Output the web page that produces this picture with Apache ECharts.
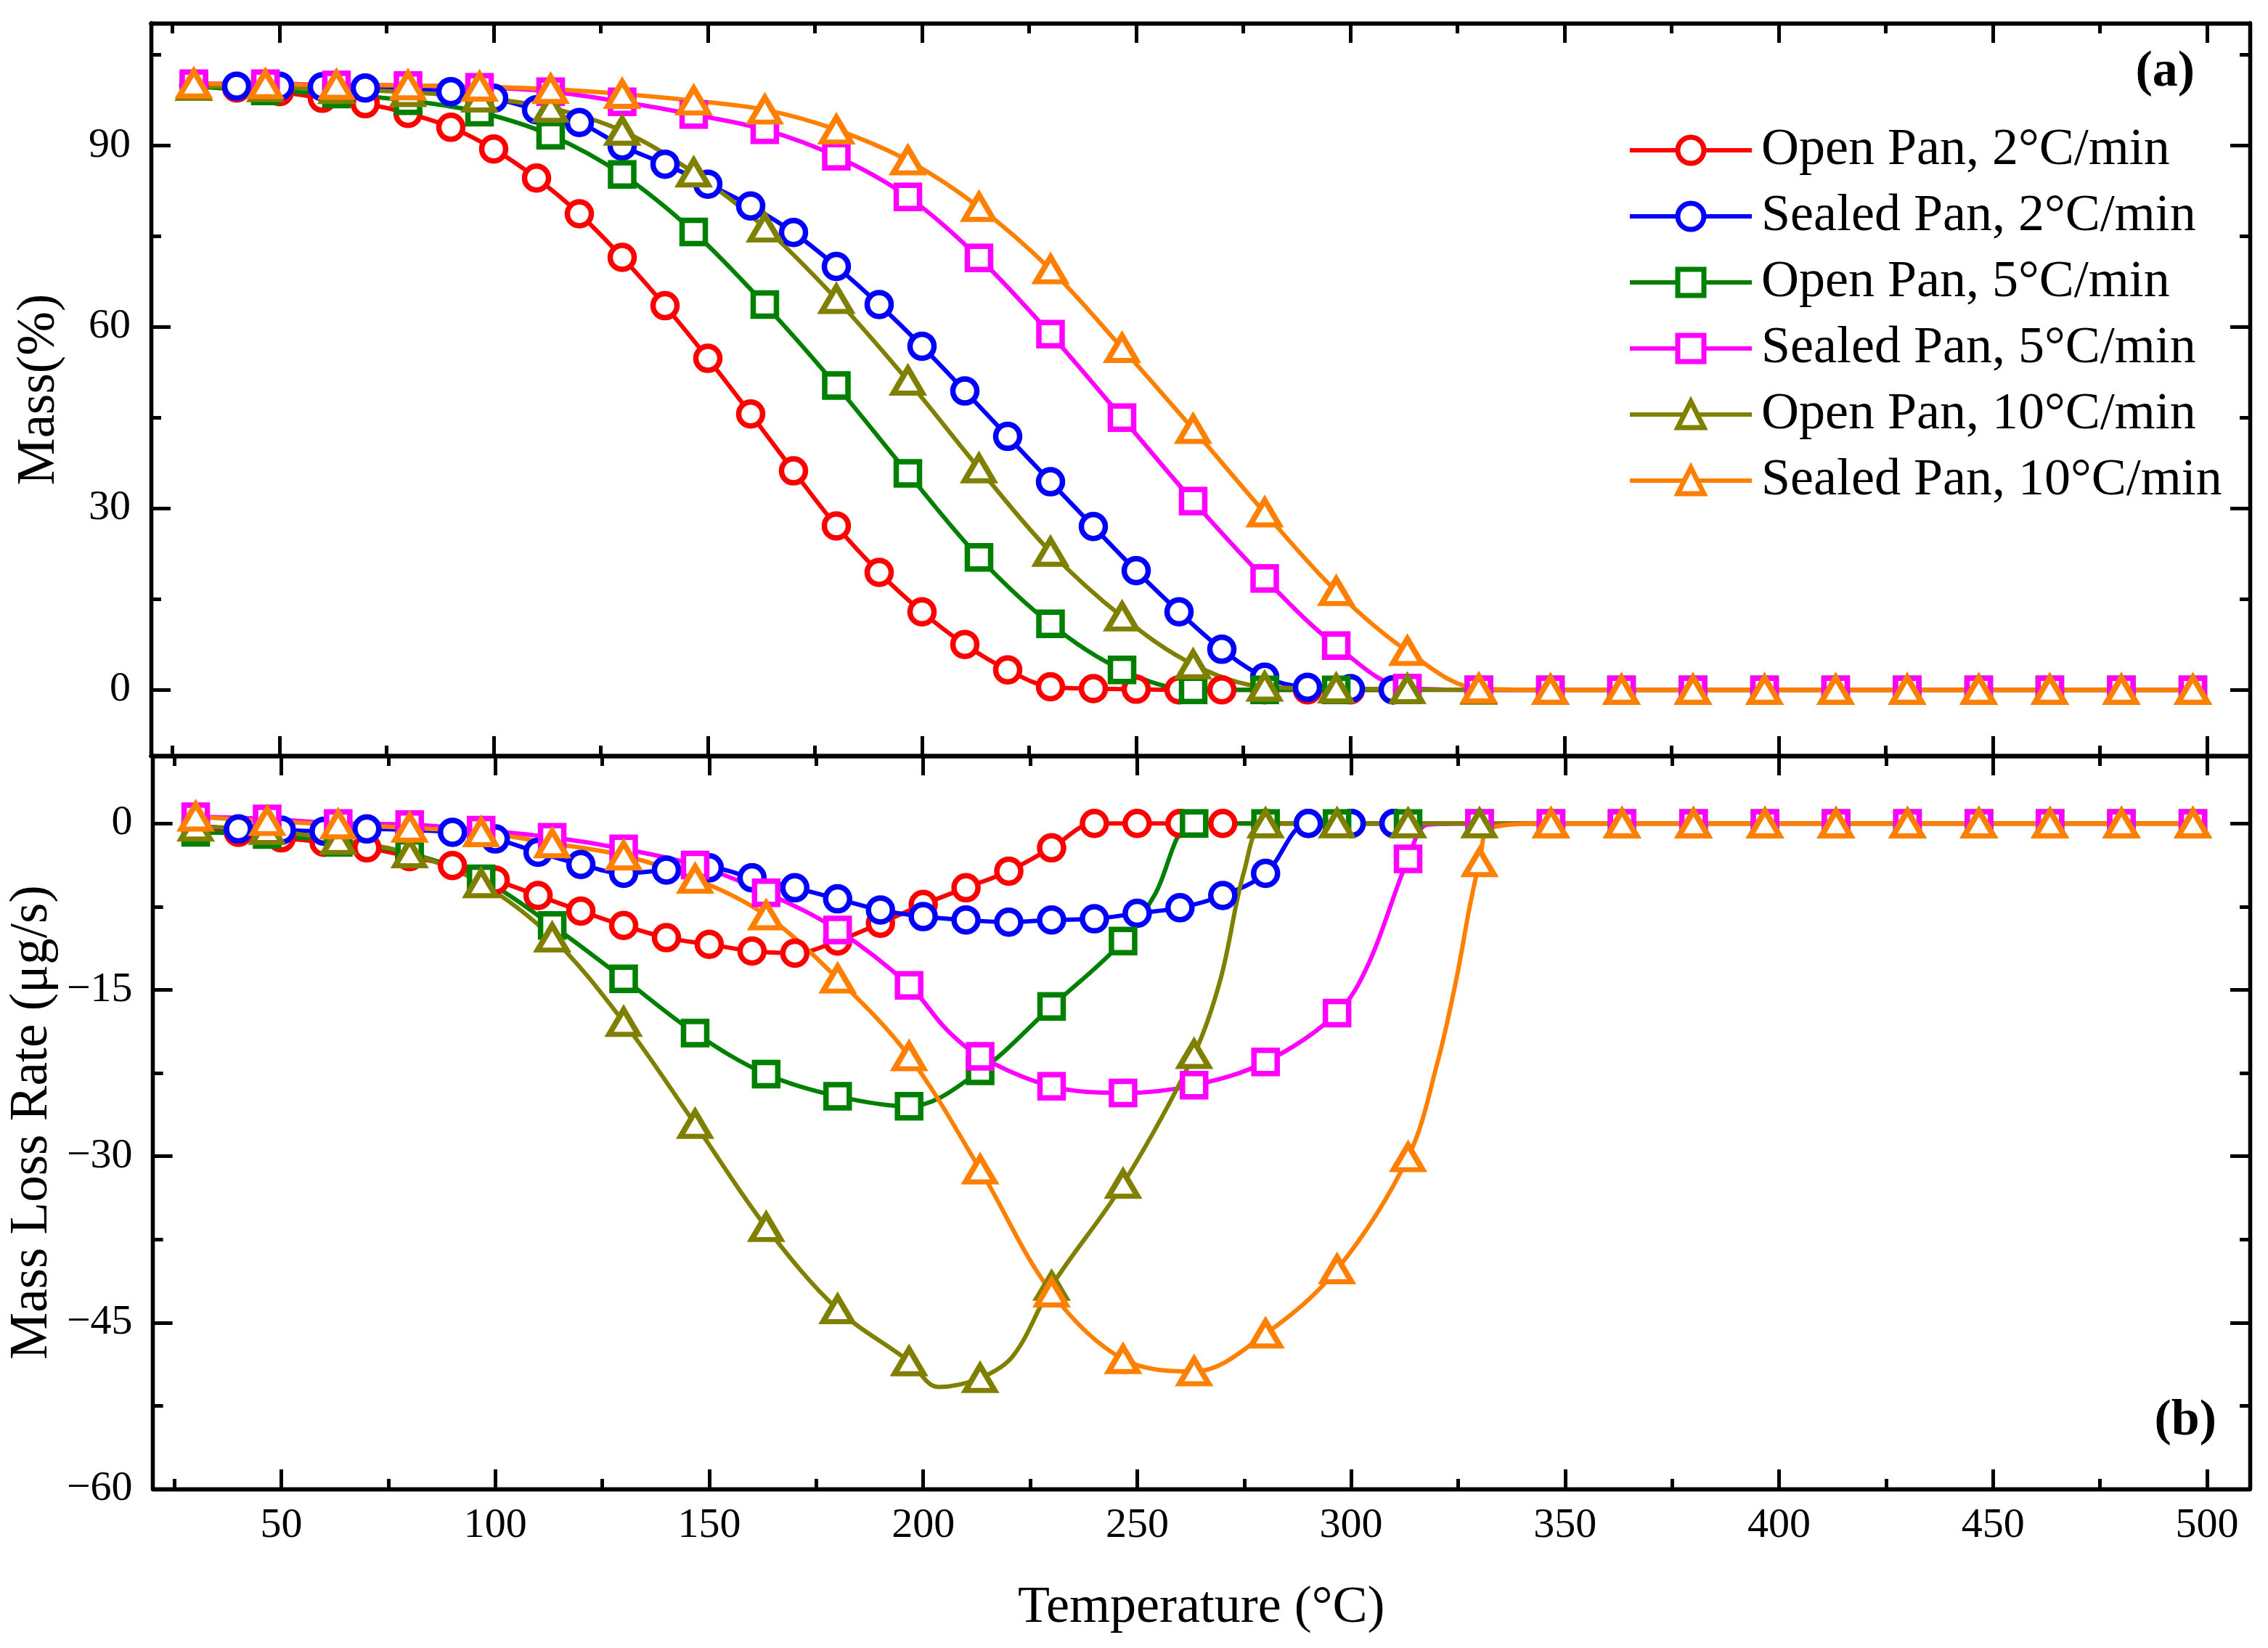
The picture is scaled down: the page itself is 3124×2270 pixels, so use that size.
<!DOCTYPE html>
<html>
<head>
<meta charset="utf-8">
<script src="https://cdn.jsdelivr.net/npm/echarts@6/dist/echarts.min.js"></script>
<style>
html, body { margin: 0; padding: 0; background: #fff; }
#chart { width: 3124px; height: 2270px; }
</style>
</head>
<body>
<div id="chart"></div>
<script>
// temperatures of the markers (circles every 10 C, squares / triangles every 16.7 C)
var tCircle = [30, 40, 50, 60, 70, 80, 90, 100, 110, 120, 130, 140, 150, 160, 170, 180, 190, 200, 210, 220, 230, 240, 250, 260, 270, 280, 290, 300, 310];
var tTri = [30, 46.7, 63.3, 80, 96.7, 113.3, 130, 146.7, 163.3, 180, 196.7, 213.3, 230, 246.7, 263.3, 280, 296.7, 313.3, 330, 346.7, 363.3, 380, 396.7, 413.3, 430, 446.7, 463.3, 480, 496.7];

// (a) mass %
var massOpen2 = [99.8, 99.5, 98.9, 97.8, 96.9, 95.3, 93.0, 89.4, 84.6, 78.7, 71.5, 63.5, 54.8, 45.6, 36.2, 27.1, 19.4, 12.9, 7.5, 3.3, 0.5, 0.2, 0.1, 0, 0, 0, 0, 0, 0];
var massSealed2 = [99.9, 99.8, 99.8, 99.7, 99.5, 99.3, 98.9, 97.8, 95.9, 93.8, 89.9, 86.9, 83.6, 80.0, 75.6, 70.0, 63.7, 56.8, 49.4, 41.9, 34.4, 27.0, 19.7, 12.9, 6.7, 2.1, 0.4, 0.2, 0];
var massOpen5 = [99.8, 99.0, 98.5, 97.4, 95.5, 91.7, 85.2, 75.7, 63.7, 50.3, 35.8, 21.9, 10.9, 3.3, 0, 0, 0, 0, 0, 0, 0, 0, 0, 0, 0, 0, 0, 0, 0];
var massSealed5 = [100.2, 100.2, 100.0, 99.9, 99.6, 98.9, 97.2, 95.1, 92.6, 88.2, 81.5, 71.4, 58.8, 45.0, 31.2, 18.4, 7.3, 0.3, 0, 0, 0, 0, 0, 0, 0, 0, 0, 0, 0];
var massOpen10 = [99.8, 99.6, 99.3, 98.8, 97.9, 96.2, 92.4, 85.5, 76.4, 64.6, 51.1, 36.6, 22.8, 12.1, 4.2, 0.5, 0.2, 0.1, 0, 0, 0, 0, 0, 0, 0, 0, 0, 0, 0];
var massSealed10 = [100.2, 100.1, 100.0, 99.9, 99.7, 99.3, 98.5, 97.4, 95.9, 92.6, 87.5, 79.8, 69.5, 56.5, 43.1, 29.3, 16.3, 6.4, 0.2, 0, 0, 0, 0, 0, 0, 0, 0, 0, 0];

// (b) mass loss rate, ug/s
var rateOpen2 = [-0.5, -0.8, -1.3, -1.7, -2.2, -3.0, -3.8, -5.1, -6.5, -7.9, -9.2, -10.3, -10.9, -11.5, -11.7, -10.6, -9.0, -7.3, -5.8, -4.3, -2.2, 0, 0, 0, 0, 0, 0, 0, 0];
var rateSealed2 = [-0.2, -0.5, -0.6, -0.7, -0.5, -0.6, -0.8, -1.4, -2.6, -3.7, -4.5, -4.2, -4.0, -4.9, -5.8, -6.8, -7.8, -8.4, -8.7, -8.9, -8.7, -8.6, -8.1, -7.6, -6.5, -4.5, 0, 0, 0];
var rateOpen5 = [-0.8, -1.0, -1.7, -2.7, -5.0, -9.2, -14.0, -18.9, -22.6, -24.6, -25.5, -22.3, -16.5, -10.6, 0, 0, 0, 0, 0, 0, 0, 0, 0, 0, 0, 0, 0, 0, 0];
var rateSealed5 = [0.6, 0.4, 0, -0.1, -0.6, -1.25, -2.3, -3.75, -6.25, -9.6, -14.6, -21.0, -23.7, -24.3, -23.6, -21.5, -17.1, -3.2, 0, 0, 0, 0, 0, 0, 0, 0, 0, 0, 0];
var rateOpen10 = [-0.3, -0.6, -1.5, -2.7, -5.4, -10.3, -17.9, -27.1, -36.4, -43.8, -48.5, -50.0, -41.7, -32.5, -20.8, 0, 0, 0, 0, 0, 0, 0, 0, 0, 0, 0, 0, 0, 0];
var rateSealed10 = [0.6, 0.2, -0.1, -0.4, -0.8, -1.8, -2.9, -5.0, -8.3, -14.0, -21.0, -31.2, -42.3, -48.3, -49.4, -46.0, -40.2, -30.1, -3.5, 0, 0, 0, 0, 0, 0, 0, 0, 0, 0];

// curve points between markers (no marker drawn)
var rateOpen5Extra = [[254, -6.5]];
var rateSealed5Extra = [[205.5, -18.6], [304, -12.7], [318, -0.1]];
var rateOpen10Extra = [[203.5, -50.8], [221, -48.0], [269.5, -14.0], [275, -4.3]];
var rateSealed10Extra = [[320.2, -21.5], [324.6, -14.0], [327.8, -7.3], [332.5, -0.4]];

// axis ticks
var xMajor = [50, 100, 150, 200, 250, 300, 350, 400, 450, 500];
var xMinor = [25, 75, 125, 175, 225, 275, 325, 375, 425, 475];
var massMajor = [0, 30, 60, 90];
var massMinor = [15, 45, 75, 105];
var rateMajor = [-60, -45, -30, -15, 0];
var rateMinor = [-52.5, -37.5, -22.5, -7.5];

var names = ['Open Pan, 2°C/min', 'Sealed Pan, 2°C/min', 'Open Pan, 5°C/min',
             'Sealed Pan, 5°C/min', 'Open Pan, 10°C/min', 'Sealed Pan, 10°C/min'];
var colors = ['#ff0000', '#0000ff', '#008000', '#ff00ff', '#808000', '#ff8000'];

var FONT = '"Times New Roman", "Liberation Serif", serif';

var chart = echarts.init(document.getElementById('chart'));

function pts(temps, vals, extra) {
	var d = temps.map(function (t, i) { return [t, vals[i]]; });
	(extra || []).forEach(function (p) { d.push({ value: p, symbol: 'none' }); });
	d.sort(function (a, b) {
		return (a.value || a)[0] - (b.value || b)[0];
	});
	return d;
}

function minus(v) {
	return String(v).replace('-', '\u2212');
}

function xAx(grid, pos, ticks, len, labels) {
	return {
		type: 'value', gridIndex: grid, position: pos, min: 20, max: 510,
		axisLine: { show: true, onZero: false, lineStyle: { color: '#000', width: 5.3 } },
		axisTick: { show: true, inside: true, length: len, customValues: ticks, lineStyle: { color: '#000', width: 5 } },
		axisLabel: { show: labels, customValues: ticks, margin: 22, color: '#000', fontSize: 58, fontFamily: FONT },
		splitLine: { show: false }
	};
}

function yAx(grid, pos, min, max, ticks, len, labels) {
	return {
		type: 'value', gridIndex: grid, position: pos, min: min, max: max,
		axisLine: { show: true, onZero: false, lineStyle: { color: '#000', width: 5.3 } },
		axisTick: { show: true, inside: true, length: len, customValues: ticks, lineStyle: { color: '#000', width: 5 } },
		axisLabel: { show: labels, customValues: ticks, margin: 28, color: '#000', fontSize: 58, fontFamily: FONT, formatter: minus },
		splitLine: { show: false }
	};
}

var xAxes = [
	xAx(0, 'bottom', xMajor, 27, false), xAx(0, 'bottom', xMinor, 14, false),
	xAx(0, 'top', xMajor, 27, false), xAx(0, 'top', xMinor, 14, false),
	xAx(1, 'bottom', xMajor, 27, true), xAx(1, 'bottom', xMinor, 14, false),
	xAx(1, 'top', xMajor, 27, false), xAx(1, 'top', xMinor, 14, false)
];
xAxes[4].name = 'Temperature (°C)';
xAxes[4].nameLocation = 'middle';
xAxes[4].nameGap = 128;
xAxes[4].nameTextStyle = { color: '#000', fontSize: 72, fontFamily: FONT };

var yAxes = [
	yAx(0, 'left', -10.9, 110.2, massMajor, 27, true), yAx(0, 'left', -10.9, 110.2, massMinor, 14, false),
	yAx(0, 'right', -10.9, 110.2, massMajor, 27, false), yAx(0, 'right', -10.9, 110.2, massMinor, 14, false),
	yAx(1, 'left', -60, 6.1, rateMajor, 27, true), yAx(1, 'left', -60, 6.1, rateMinor, 14, false),
	yAx(1, 'right', -60, 6.1, rateMajor, 27, false), yAx(1, 'right', -60, 6.1, rateMinor, 14, false)
];
yAxes[0].name = 'Mass(%)';
yAxes[0].nameLocation = 'middle';
yAxes[0].nameGap = 117;
yAxes[0].nameTextStyle = { color: '#000', fontSize: 73, fontFamily: FONT };
yAxes[4].name = 'Mass Loss Rate (μg/s)';
yAxes[4].nameLocation = 'middle';
yAxes[4].nameGap = 123;
yAxes[4].nameTextStyle = { color: '#000', fontSize: 73, fontFamily: FONT };

var symbols = ['circle', 'circle', 'rect', 'rect', 'triangle', 'triangle'];
var sizes = [33, 33, 32, 32, [40, 34], [40, 34]];

var panelA = [
	pts(tCircle, massOpen2), pts(tCircle, massSealed2), pts(tTri, massOpen5),
	pts(tTri, massSealed5), pts(tTri, massOpen10), pts(tTri, massSealed10)
];
var panelB = [
	pts(tCircle, rateOpen2), pts(tCircle, rateSealed2), pts(tTri, rateOpen5, rateOpen5Extra),
	pts(tTri, rateSealed5, rateSealed5Extra), pts(tTri, rateOpen10, rateOpen10Extra), pts(tTri, rateSealed10, rateSealed10Extra)
];

function lineSeries(name, i, p, data) {
	return {
		name: name,
		type: 'line',
		xAxisIndex: p * 4,
		yAxisIndex: p * 4,
		data: data,
		smooth: 0.35,
		symbol: symbols[i],
		symbolSize: sizes[i],
		lineStyle: { color: colors[i], width: 6 },
		itemStyle: { color: '#fff', borderColor: colors[i], borderWidth: 7.5 }
	};
}

var series = [];
// empty series that only feed the legend
names.forEach(function (n, i) { series.push(lineSeries(n, i, 0, [])); });
// the curves themselves, kept out of the legend
[panelA, panelB].forEach(function (panel, p) {
	panel.forEach(function (data, i) {
		series.push(lineSeries('curve ' + p + '-' + i, i, p, data));
	});
});

chart.setOption({
	backgroundColor: '#fff',
	animation: false,
	grid: [
		{ left: 208, width: 2891, top: 32, height: 1009 },
		{ left: 208, width: 2891, top: 1041, height: 1010 }
	],
	xAxis: xAxes,
	yAxis: yAxes,
	legend: {
		data: names,
		orient: 'vertical',
		left: 2237,
		top: 162,
		itemWidth: 168,
		itemHeight: 45,
		itemGap: 11,
		selectedMode: false,
		lineStyle: { width: 6 },
		itemStyle: { borderWidth: 7 },
		textStyle: { color: '#000', fontSize: 72, fontFamily: FONT, lineHeight: 80, padding: [0, 0, 0, 8] }
	},
	graphic: [
		{ type: 'text', right: 101, top: 65, style: { text: '(a)', fill: '#000', font: 'bold 70px ' + FONT } },
		{ type: 'text', right: 71, top: 1923, style: { text: '(b)', fill: '#000', font: 'bold 70px ' + FONT } }
	],
	series: series
});
</script>
</body>
</html>
